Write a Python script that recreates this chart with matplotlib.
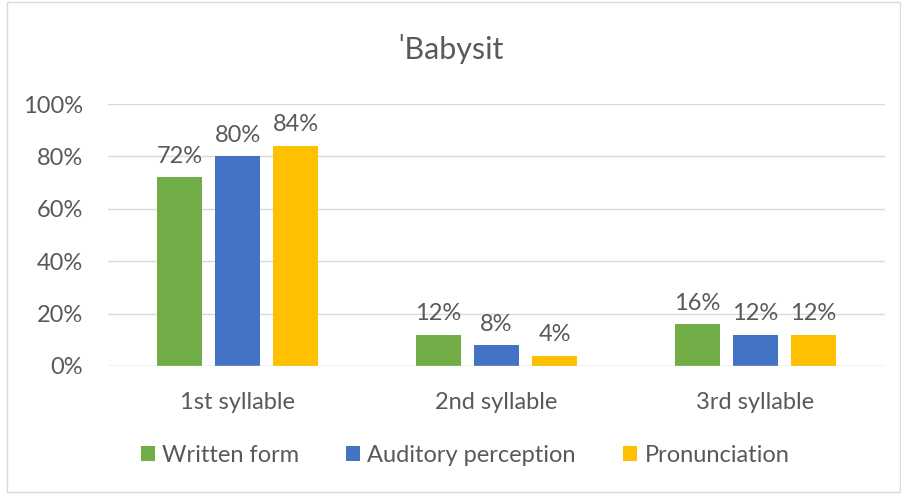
import matplotlib.pyplot as plt
import numpy as np
from matplotlib.patches import Rectangle

categories = ["1st syllable", "2nd syllable", "3rd syllable"]
series_names = ["Written form", "Auditory perception", "Pronunciation"]
written = [72, 12, 16]
auditory = [80, 8, 12]
pronunciation = [84, 4, 12]
colors = ["#70AD47", "#4472C4", "#FFC000"]
yticks = [0, 20, 40, 60, 80, 100]

TXT = "#595959"
FS = 17
plt.rcParams["font.family"] = ["Lato", "DejaVu Sans"]

fig = plt.figure(figsize=(9.01, 4.94), dpi=100)
ax = fig.add_axes([108 / 901, 1 - 366 / 494, (885 - 108) / 901, (366 - 104) / 494])

x = np.arange(len(categories))
width = 0.174
step = 0.224
for i, (vals, name, c) in enumerate(zip([written, auditory, pronunciation], series_names, colors)):
    pos = x + (i - 1) * step
    bars = ax.bar(pos, vals, width, color=c, label=name, zorder=3)
    for b, v in zip(bars, vals):
        ax.text(b.get_x() + b.get_width() / 2, v + 4, f"{v}%", ha="center", va="bottom",
                fontsize=FS, color=TXT)

ax.set_xlim(-0.5, 2.5)
ax.set_ylim(0, 100)
ax.set_yticks(yticks)
ax.set_yticklabels([f"{t}%" for t in yticks], fontsize=FS, color=TXT)
ax.set_xticks(x)
ax.set_xticklabels(categories, fontsize=FS, color=TXT)
ax.tick_params(axis="both", length=0)
ax.tick_params(axis="x", pad=19)
ax.tick_params(axis="y", pad=18)
ax.grid(axis="y", color="#D9D9D9", linewidth=1, zorder=0)
for s in ax.spines.values():
    s.set_visible(False)
ax.axhline(0, color="#D9D9D9", linewidth=1, zorder=4)

fig.text(0.5, 1 - 49 / 494, "ˈBabysit", ha="center", va="center", fontsize=22, color=TXT)

fig.legend(loc="center", bbox_to_anchor=(465 / 901, 1 - 455 / 494), ncol=3, frameon=False,
           fontsize=FS, labelcolor=TXT, handlelength=0.6, handleheight=0.6,
           handletextpad=0.3, columnspacing=2.0)

fig.patches.append(Rectangle((7 / 901, 2 / 494), 893 / 901, 490 / 494, transform=fig.transFigure,
                             fill=False, edgecolor="#D9D9D9", linewidth=1))

fig.savefig("out.png", dpi=100)
